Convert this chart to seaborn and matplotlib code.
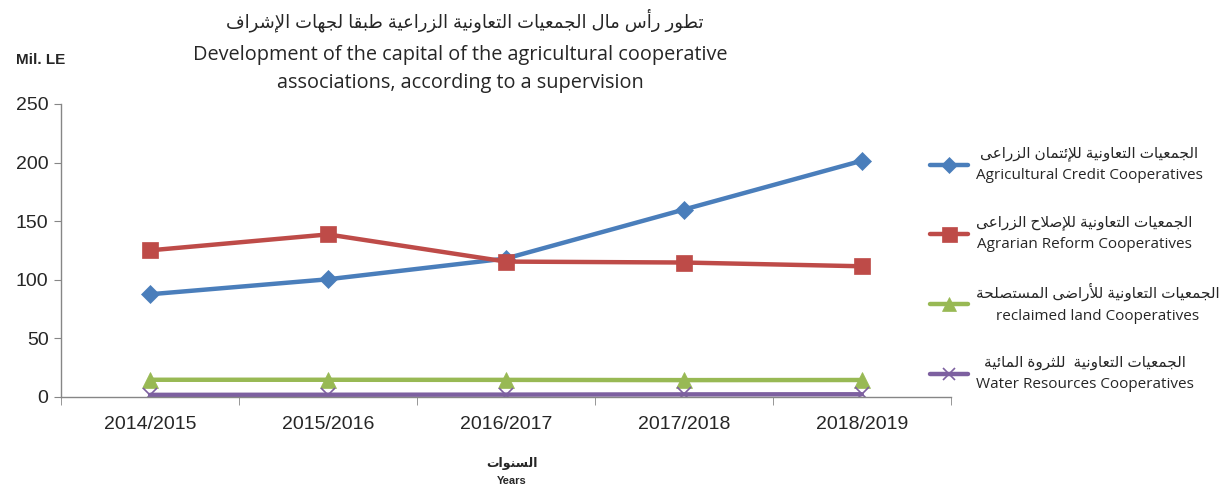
import numpy as np
import pandas as pd
import seaborn as sns
import matplotlib.pyplot as plt

# -----------------------------------------
# Data (Mil. LE)
# -----------------------------------------
years = ["2014/2015", "2015/2016", "2016/2017", "2017/2018", "2018/2019"]
credit = [87.5, 100.3, 118.0, 159.8, 201.5]
reform = [125.0, 138.6, 115.4, 114.6, 111.4]
reclaimed = [14.5, 14.5, 14.4, 14.2, 14.3]
water = [1.6, 1.7, 1.8, 2.0, 2.1]

names_ar = [
    "الجمعيات التعاونية للإئتمان الزراعى",
    "الجمعيات التعاونية للإصلاح الزراعى",
    "الجمعيات التعاونية للأراضى المستصلحة",
    "الجمعيات التعاونية  للثروة المائية",
]
names_en = [
    "Agricultural Credit Cooperatives",
    "Agrarian Reform Cooperatives",
    "reclaimed land Cooperatives",
    "Water Resources Cooperatives",
]
title_ar = "تطور رأس مال الجمعيات التعاونية الزراعية طبقا لجهات الإشراف"
title_en = "Development of the capital of the agricultural cooperative\nassociations, according to a supervision"
xlabel_ar = "السنوات"
xlabel_en = "Years"
unit = "Mil. LE"

# -----------------------------------------
# Minimal Arabic shaping (matplotlib has no shaping / bidi)
# -----------------------------------------
FORMS = {
    "ء": (0xFE80,), "آ": (0xFE81, 0xFE82), "أ": (0xFE83, 0xFE84),
    "ؤ": (0xFE85, 0xFE86), "إ": (0xFE87, 0xFE88),
    "ئ": (0xFE89, 0xFE8A, 0xFE8B, 0xFE8C), "ا": (0xFE8D, 0xFE8E),
    "ب": (0xFE8F, 0xFE90, 0xFE91, 0xFE92), "ة": (0xFE93, 0xFE94),
    "ت": (0xFE95, 0xFE96, 0xFE97, 0xFE98), "ث": (0xFE99, 0xFE9A, 0xFE9B, 0xFE9C),
    "ج": (0xFE9D, 0xFE9E, 0xFE9F, 0xFEA0), "ح": (0xFEA1, 0xFEA2, 0xFEA3, 0xFEA4),
    "خ": (0xFEA5, 0xFEA6, 0xFEA7, 0xFEA8), "د": (0xFEA9, 0xFEAA),
    "ذ": (0xFEAB, 0xFEAC), "ر": (0xFEAD, 0xFEAE), "ز": (0xFEAF, 0xFEB0),
    "س": (0xFEB1, 0xFEB2, 0xFEB3, 0xFEB4), "ش": (0xFEB5, 0xFEB6, 0xFEB7, 0xFEB8),
    "ص": (0xFEB9, 0xFEBA, 0xFEBB, 0xFEBC), "ض": (0xFEBD, 0xFEBE, 0xFEBF, 0xFEC0),
    "ط": (0xFEC1, 0xFEC2, 0xFEC3, 0xFEC4), "ظ": (0xFEC5, 0xFEC6, 0xFEC7, 0xFEC8),
    "ع": (0xFEC9, 0xFECA, 0xFECB, 0xFECC), "غ": (0xFECD, 0xFECE, 0xFECF, 0xFED0),
    "ف": (0xFED1, 0xFED2, 0xFED3, 0xFED4), "ق": (0xFED5, 0xFED6, 0xFED7, 0xFED8),
    "ك": (0xFED9, 0xFEDA, 0xFEDB, 0xFEDC), "ل": (0xFEDD, 0xFEDE, 0xFEDF, 0xFEE0),
    "م": (0xFEE1, 0xFEE2, 0xFEE3, 0xFEE4), "ن": (0xFEE5, 0xFEE6, 0xFEE7, 0xFEE8),
    "ه": (0xFEE9, 0xFEEA, 0xFEEB, 0xFEEC), "و": (0xFEED, 0xFEEE),
    "ى": (0xFEEF, 0xFEF0), "ي": (0xFEF1, 0xFEF2, 0xFEF3, 0xFEF4),
}
LAMALEF = {"آ": (0xFEF5, 0xFEF6), "أ": (0xFEF7, 0xFEF8),
           "إ": (0xFEF9, 0xFEFA), "ا": (0xFEFB, 0xFEFC)}


def joins_next(c):
    return c in FORMS and len(FORMS[c]) == 4


def shape_line(text):
    out = []
    i = 0
    while i < len(text):
        c = text[i]
        prev_join = i > 0 and joins_next(text[i - 1])
        if c == "ل" and i + 1 < len(text) and text[i + 1] in LAMALEF:
            iso, fin = LAMALEF[text[i + 1]]
            out.append(chr(fin if prev_join else iso))
            i += 2
            continue
        if c not in FORMS:
            out.append(c)
            i += 1
            continue
        f = FORMS[c]
        nxt = text[i + 1] if i + 1 < len(text) else ""
        next_join = len(f) == 4 and nxt in FORMS
        if len(f) == 1:
            code = f[0]
        elif prev_join and next_join:
            code = f[3]
        elif prev_join:
            code = f[1]
        elif next_join:
            code = f[2]
        else:
            code = f[0]
        out.append(chr(code))
        i += 1
    return "".join(reversed(out))


def ar(text):
    return "\n".join(shape_line(t) for t in text.split("\n"))


# -----------------------------------------
# Long-format table for seaborn
# -----------------------------------------
labels = [ar(a) + "\n" + e for a, e in zip(names_ar, names_en)]
series = [credit, reform, reclaimed, water]
df = pd.DataFrame({
    "year": years * 4,
    "value": np.concatenate(series),
    "group": np.repeat(labels, len(years)),
})

colors = ["#4A7EBB", "#BE4B48", "#98B954", "#7D60A0"]
markers = ["D", "s", "^", "x"]
msizes = [9, 12, 11, 10]

sns.set_style("white")
plt.rcParams["font.family"] = ["Liberation Sans", "DejaVu Sans"]
wide = ["Open Sans", "DejaVu Sans"]

fig, ax = plt.subplots(figsize=(12.22, 4.88), dpi=100)
fig.subplots_adjust(left=0.05, right=0.778, top=0.787, bottom=0.187)

sns.lineplot(
    data=df, x="year", y="value", hue="group", hue_order=labels,
    palette=dict(zip(labels, colors)), linewidth=3.2, sort=False,
    legend=False, ax=ax,
)

# markers per series (filled and line-art mixed)
for line, m, ms in zip(ax.lines, markers, msizes):
    line.set_marker(m)
    line.set_markersize(ms)
    line.set_markerfacecolor(line.get_color())
    line.set_markeredgecolor(line.get_color())
    line.set_markeredgewidth(1.2 if m == "x" else 0.5)

ax.set_xlim(-0.5, len(years) - 0.5)
ax.set_ylim(0, 250)
ax.set_yticks(range(0, 251, 50))
ax.set_xlabel("")
ax.set_ylabel("")

# axes styling (Excel look)
for s in ["top", "right"]:
    ax.spines[s].set_visible(False)
for s in ["left", "bottom"]:
    ax.spines[s].set_color("#868686")
    ax.spines[s].set_linewidth(1.0)
ax.tick_params(axis="y", which="major", left=True, length=5, color="#868686",
               labelsize=14, pad=4)
ax.tick_params(axis="x", which="major", length=0, labelsize=14, pad=14)
ax.set_xticks(np.arange(-0.5, len(years), 1), minor=True)
ax.tick_params(axis="x", which="minor", bottom=True, length=6, color="#868686")

# legend on the right
leg = ax.legend(
    ax.lines[:4], labels, loc="upper left", bbox_to_anchor=(0.761, 0.70),
    bbox_transform=fig.transFigure, frameon=False,
    prop={"family": wide, "size": 11},
    labelspacing=2.1, handlelength=2.5, handletextpad=0.5,
    borderpad=0, borderaxespad=0, markerscale=0.9,
)
for t in leg.get_texts():
    t.set_multialignment("center")
    t.set_linespacing(1.6)

# titles and labels
fig.text(0.38, 0.958, ar(title_ar), ha="center", va="center", fontsize=13)
fig.text(0.377, 0.858, title_en, ha="center", va="center", fontsize=14.3,
         family=wide, linespacing=1.55)
fig.text(0.033, 0.877, unit, ha="center", va="center", fontsize=11,
         fontweight="bold")
fig.text(0.419, 0.051, ar(xlabel_ar), ha="center", va="center", fontsize=9,
         fontweight="bold")
fig.text(0.419, 0.014, xlabel_en, ha="center", va="center", fontsize=8,
         fontweight="bold")

fig.savefig("out.png", dpi=100)
